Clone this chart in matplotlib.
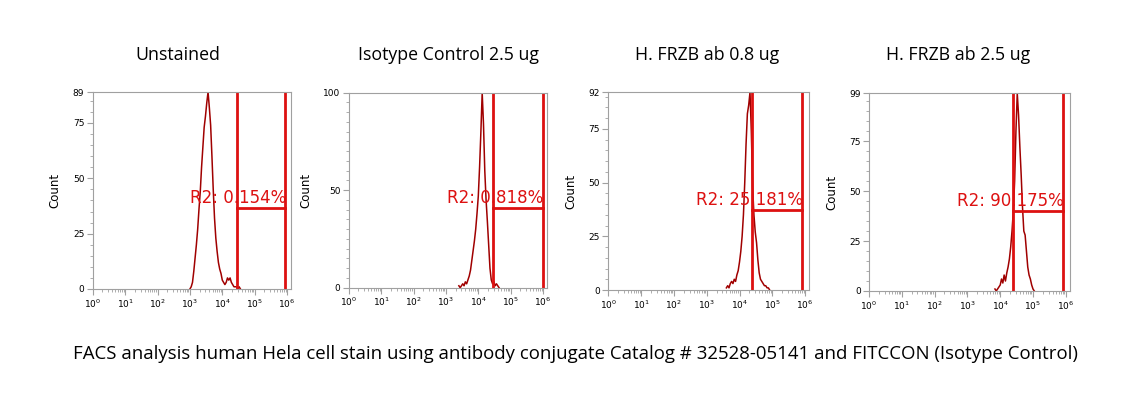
import numpy as np
import matplotlib.pyplot as plt
from matplotlib.ticker import FixedLocator, NullFormatter

# histogram bins (log10 of fluorescence), counts
unstained_logx = np.arange(3.00, 4.57, 0.04)
unstained_cnt = [0, 1, 3, 8, 14, 20, 27, 36, 44, 55, 64, 73, 78, 84, 89, 82, 74, 60, 45, 32,
                 23, 17, 12, 9, 7, 4, 3, 2, 3, 5, 4, 5, 3, 2, 1, 1, 1, 0, 1, 0]

isotype_logx = np.arange(3.40, 4.65, 0.04)
isotype_cnt = [1, 0, 1, 2, 1, 3, 2, 4, 6, 9, 14, 19, 24, 30, 38, 47, 62, 80, 100, 84,
               60, 45, 34, 22, 10, 4, 2, 3, 1, 2, 1, 0]

frzb08_logx = np.arange(3.60, 4.93, 0.04)
frzb08_cnt = [1, 2, 1, 3, 4, 3, 5, 4, 7, 9, 13, 18, 25, 35, 50, 68, 82, 86, 92, 74,
              48, 35, 27, 22, 14, 8, 5, 4, 3, 2, 2, 1, 1, 0]

frzb25_logx = np.arange(3.84, 5.05, 0.04)
frzb25_cnt = [1, 0, 1, 2, 3, 6, 4, 8, 5, 9, 12, 16, 22, 30, 40, 55, 80, 99, 88, 72,
              58, 42, 30, 28, 20, 12, 8, 6, 3, 1, 0]

titles = ["Unstained", "Isotype Control 2.5 ug", "H. FRZB ab 0.8 ug", "H. FRZB ab 2.5 ug"]
title_x = [178, 449, 707, 958]
y_max = [89, 100, 92, 99]
y_ticks = [[0, 25, 50, 75, 89], [0, 50, 100], [0, 25, 50, 75, 92], [0, 25, 50, 75, 99]]
gate_lo = [4.44, 4.44, 4.38, 4.38]
gate_hi = [5.95, 5.99, 5.90, 5.91]
gate_y = [36.5, 41, 37.2, 40.2]
gate_text = ["R2: 0.154%", "R2: 0.818%", "R2: 25.181%", "R2: 90.175%"]

hists = [(unstained_logx, unstained_cnt), (isotype_logx, isotype_cnt),
         (frzb08_logx, frzb08_cnt), (frzb25_logx, frzb25_cnt)]

# axes boxes in pixels: left, top, bottom, pixels per decade
boxes = [(92.7, 92.0, 289.0, 32.4), (348.7, 92.7, 287.7, 32.4),
         (608.3, 92.3, 290.0, 32.8), (869.0, 93.3, 291.0, 32.8)]

W, H = 1144, 397
fig = plt.figure(figsize=(W / 100, H / 100), dpi=100)

hist_color = "#a00000"
gate_color = "#dd1111"
frame_color = "#a0a0a0"

for i in range(4):
    left, top, bottom, ppd = boxes[i]
    width = ppd * 6.12
    ax = fig.add_axes([left / W, 1 - bottom / H, width / W, (bottom - top) / H])
    lx, cnt = hists[i]
    ax.plot(10 ** lx[:len(cnt)], cnt, color=hist_color, lw=1.1)

    ax.set_xscale("log")
    ax.set_xlim(1, 10 ** 6.12)
    ax.set_ylim(0, y_max[i])

    # gate
    ax.axvline(10 ** gate_lo[i], color=gate_color, lw=2)
    ax.axvline(10 ** gate_hi[i], color=gate_color, lw=2)
    ax.plot([10 ** gate_lo[i], 10 ** gate_hi[i]], [gate_y[i], gate_y[i]], color=gate_color, lw=2)
    ax.text(10 ** (gate_hi[i] + 0.03), gate_y[i] + 2.2, gate_text[i], color=gate_color,
            fontsize=12, ha="right", va="baseline", family="DejaVu Sans")

    for s in ax.spines.values():
        s.set_color(frame_color)
        s.set_linewidth(0.8)

    ax.xaxis.set_major_locator(FixedLocator([10 ** k for k in range(7)]))
    ax.xaxis.set_minor_locator(FixedLocator([m * 10 ** k for k in range(6) for m in range(2, 10)]))
    ax.xaxis.set_minor_formatter(NullFormatter())
    ax.set_xticklabels([r"$10^{%d}$" % k for k in range(7)])
    ax.set_yticks(y_ticks[i])
    ax.yaxis.set_minor_locator(FixedLocator(np.arange(0, y_max[i] + 0.1, 5)))
    ax.tick_params(axis="both", which="major", labelsize=6.5, color=frame_color, length=4, pad=2)
    ax.tick_params(axis="both", which="minor", color=frame_color, length=2)
    ax.set_ylabel("Count", fontsize=8.5, labelpad=8)

    fig.text(title_x[i] / W, 1 - 60 / H, titles[i], fontsize=12.8, family="Open Sans",
             ha="center", va="baseline")

fig.text(575 / W, 1 - 359 / H,
         "FACS analysis human Hela cell stain using antibody conjugate Catalog # 32528-05141 and FITCCON (Isotype Control)",
         fontsize=13.4, family="Open Sans", ha="center", va="baseline")

fig.savefig("out.png", dpi=100)
